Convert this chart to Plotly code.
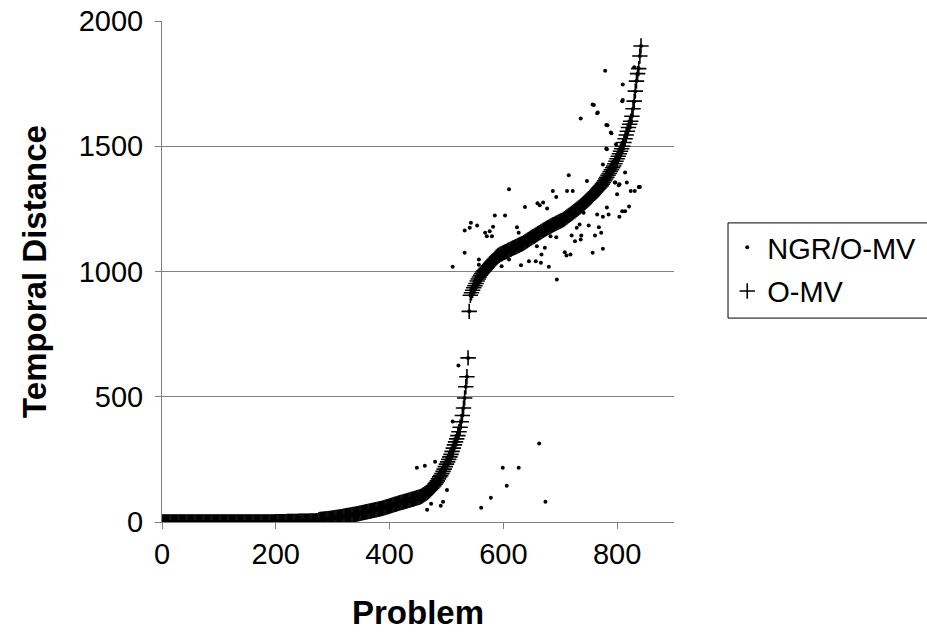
import plotly.graph_objects as go

# O-MV temporal distance, every 2nd problem (problems 0, 2, 4, ... 842)
omv_values = [
    0, 0, 0, 0, 0, 0, 0, 0, 0, 0, 0, 0, 0, 0, 0, 0, 0, 0, 0, 0,
    0, 0, 0, 0, 0, 0, 0, 0, 0, 0, 0, 0, 0, 0, 0, 0, 0, 0, 0, 0,
    0, 0, 0, 0, 0, 0, 0, 0, 0, 0, 0, 0, 0, 0, 0, 0, 0, 0, 0, 0,
    0, 0, 0, 0, 0, 0, 0, 0, 0, 0, 0, 0, 0, 0, 0, 0, 0, 0, 0, 0,
    0, 0, 0, 0, 0, 0, 0, 0, 0, 0, 0, 0, 0, 0, 0, 0, 0, 0, 0, 0,
    1, 1, 1, 1, 1, 1, 1, 1, 1, 1, 2, 2, 2, 2, 2, 2, 2, 2, 2, 2,
    3, 3, 3, 3, 3, 3, 3, 3, 3, 3, 4, 4, 4, 4, 4, 4, 5, 5,
    9, 10, 10, 11, 11, 12, 12, 13, 13, 14, 14, 15, 16, 16, 17, 18, 18, 19, 20,
    20, 21, 22, 23, 24, 25, 26, 26, 27, 28, 29, 30, 30, 31, 32, 33, 34, 35,
    36, 37, 38, 39, 40, 41, 42, 43, 44, 45, 46, 47, 48, 49, 50, 51, 52, 53,
    54, 55, 57, 58, 60, 61, 62, 64, 65, 67, 68, 70, 71, 72, 74, 75, 77,
    78, 79, 80, 82, 83, 84, 86, 87, 88, 90, 91, 92, 94, 95, 97, 98, 99, 101,
    103, 106, 109, 112, 115, 118, 122, 126, 130, 135, 140, 145, 151, 157, 164, 172, 180,
    185, 193, 202, 211, 221, 231,
    240, 250, 260, 270, 282, 295,
    308, 320, 332, 345, 360, 378,
    400, 425, 455,
    495, 540, 580, 655, 841,
    905, 915, 925, 935, 943, 952, 962, 970, 978, 985,
    992, 998, 1003, 1008, 1013, 1018, 1023, 1028, 1033, 1038,
    1043, 1048, 1053, 1058, 1062, 1065, 1068, 1070, 1072, 1075,
    1077, 1079, 1081, 1084, 1086, 1088, 1090, 1093, 1095, 1097,
    1099, 1101, 1104, 1106, 1108, 1110, 1112, 1115, 1118, 1121,
    1124, 1127, 1130, 1133, 1136, 1139, 1141, 1144, 1147, 1150,
    1153, 1155, 1158, 1161, 1164, 1167, 1169, 1172, 1175, 1177,
    1180, 1182, 1185, 1187, 1189, 1192, 1194, 1196, 1199, 1201,
    1203, 1205, 1208, 1211, 1215, 1218, 1222, 1225, 1228, 1232,
    1235, 1239, 1242, 1246, 1249, 1253, 1257, 1261, 1265, 1269,
    1273, 1277, 1281, 1285, 1290, 1294, 1298, 1303, 1308, 1313,
    1318, 1323, 1328, 1333, 1338, 1343, 1349, 1355, 1362, 1369,
    1376, 1384, 1391, 1399, 1406, 1414, 1421, 1430, 1440, 1450,
    1460, 1470, 1480, 1490, 1500, 1515, 1530, 1545, 1560, 1575,
    1588, 1600, 1620, 1650, 1680, 1720, 1760, 1790, 1810, 1860,
    1900,
]
problems = list(range(0, 2 * len(omv_values), 2))

# NGR/O-MV points that depart from the O-MV curve (problem, distance)
ngr_off_problems = [
    521, 511, 448, 462, 480, 501, 466, 473, 490, 494, 561, 578, 599, 606, 627, 663, 674,
    511, 532, 532, 541, 543, 554, 557, 557, 568, 571, 576, 582, 580, 585, 603, 597, 610,
    610, 624, 627, 631, 638, 645, 657, 660, 664, 670, 666, 659, 667, 673, 677, 680, 687,
    693, 694, 683, 693, 708, 711, 718, 712, 715, 722, 720, 726, 729, 734, 737, 736, 741,
    750, 747, 757, 761, 765, 768, 772, 775, 775, 785, 782, 796, 800, 804, 803, 809, 814,
    814, 817, 821, 824, 831, 838, 782, 789, 781, 757, 765, 736, 809, 798, 779, 810, 810,
    759, 766, 783, 790, 781, 775, 797, 804, 840, 830,
]
ngr_off_values = [
    625, 401, 217, 225, 241, 128, 49, 73, 65, 81, 57, 97, 217, 145, 217, 313, 81,
    1019, 1075, 1164, 1175, 1195, 1184, 1048, 1027, 1155, 1141, 1161, 1179, 1141, 1224, 1224, 1021, 1328,
    1048, 1177, 1155, 1025, 1257, 1041, 1041, 1272, 1264, 1275, 1035, 1101, 1068, 1095, 1251, 1019, 1321,
    1297, 968, 1141, 1137, 1077, 1064, 1068, 1321, 1384, 1321, 1144, 1121, 1175, 1188, 1144, 1128, 1235,
    1184, 1361, 1075, 1144, 1228, 1177, 1155, 1091, 1219, 1228, 1255, 1355, 1308, 1219, 1344, 1241, 1241,
    1395, 1355, 1259, 1321, 1321, 1337, 1488, 1555, 1585, 1667, 1632, 1611, 1680, 1508, 1801, 1747, 1685,
    1665, 1635, 1584, 1552, 1491, 1427, 1355, 1348, 1337, 1815,
]

x_ticks = [0, 200, 400, 600, 800]
y_ticks = [0, 500, 1000, 1500, 2000]

FONT = "Liberation Sans, Arial, sans-serif"
GRID = "#808080"

fig = go.Figure()
fig.add_trace(go.Scatter(
    x=problems + ngr_off_problems,
    y=omv_values + ngr_off_values,
    mode="markers",
    name="NGR/O-MV",
    legendgroup="a",
    marker=dict(symbol="circle", size=4, color="black"),
))
fig.add_trace(go.Scatter(
    x=problems,
    y=omv_values,
    mode="markers",
    name="O-MV",
    legendgroup="b",
    marker=dict(symbol="cross-thin", size=11, color="black",
                line=dict(width=1.6, color="black")),
))

# legend frame: runs past the right edge of the page, as in the original
fig.add_shape(type="rect", xref="paper", yref="paper",
              x0=1.1055, x1=1.52, y0=0.407, y1=0.597,
              line=dict(color="black", width=1), fillcolor="rgba(0,0,0,0)",
              layer="above")

fig.update_layout(
    width=927, height=641,
    margin=dict(l=162, r=253, t=21, b=119, autoexpand=False),
    paper_bgcolor="white", plot_bgcolor="white",
    font=dict(family=FONT, size=29, color="black"),
    showlegend=True,
    legend=dict(
        x=1.104, y=0.599, xanchor="left", yanchor="top",
        borderwidth=0, bgcolor="rgba(0,0,0,0)",
        font=dict(family=FONT, size=29, color="black"),
        traceorder="grouped", tracegroupgap=3,
        itemwidth=30,
    ),
    xaxis=dict(
        range=[0, 900], tickvals=x_ticks, showgrid=False, zeroline=False,
        showline=True, linecolor=GRID, linewidth=1, automargin=False,
        ticks="outside", ticklen=6, tickcolor=GRID, ticklabelstandoff=0,
        tickfont=dict(family=FONT, size=29),
        title=dict(text="<b>Problem</b>", font=dict(family=FONT, size=33), standoff=32),
    ),
    yaxis=dict(
        range=[0, 2000], tickvals=y_ticks, showgrid=True, gridcolor=GRID, gridwidth=1,
        zeroline=False, showline=True, linecolor=GRID, linewidth=1, automargin=False,
        ticks="outside", ticklen=6, tickcolor=GRID, ticklabelstandoff=6,
        tickfont=dict(family=FONT, size=29),
        title=dict(text="<b>Temporal Distance</b>", font=dict(family=FONT, size=33), standoff=22),
    ),
)

fig.write_html("out.html")
